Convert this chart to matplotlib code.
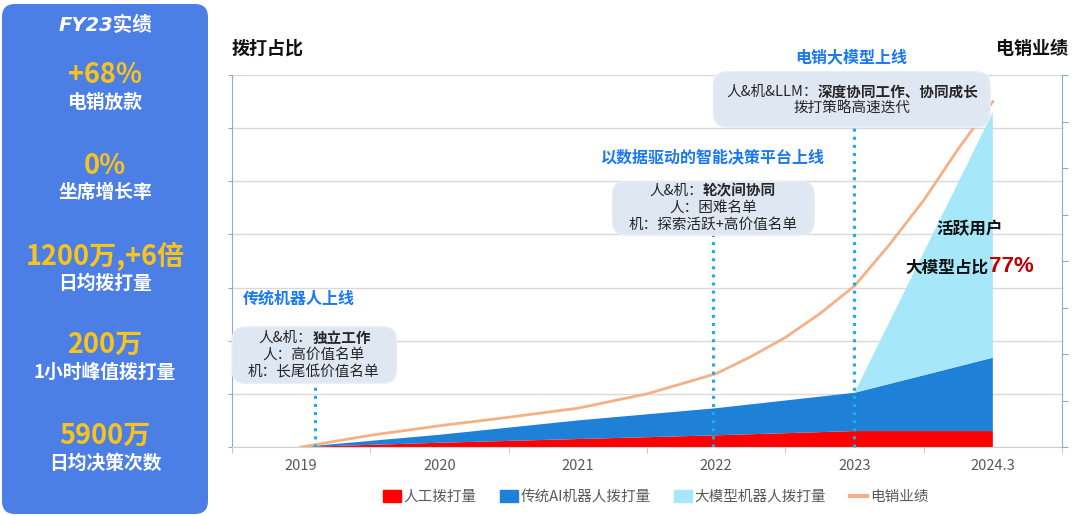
import matplotlib.pyplot as plt
from matplotlib.patches import FancyBboxPatch, Patch
from matplotlib.lines import Line2D

plt.rcParams['font.family'] = ['Noto Sans CJK SC', 'DejaVu Sans']

# categories and series (y in gridline units, 7 gridlines on the left axis)
years = ['2019', '2020', '2021', '2022', '2023', '2024.3']
x = list(range(len(years)))
manual_calls = [0, 0.08, 0.15, 0.22, 0.30, 0.30]
ai_robot_calls = [0, 0.15, 0.35, 0.51, 0.72, 1.38]
llm_robot_calls = [0, 0, 0, 0, 0, 4.62]

# sales line at finer steps
sales_x = [0, 0.5, 1, 1.5, 2, 2.5, 3, 3.25, 3.5, 3.75, 4, 4.25, 4.5, 4.75, 5]
sales = [0, 0.22, 0.40, 0.56, 0.73, 1.0, 1.38, 1.70, 2.06, 2.51, 3.03, 3.8, 4.64, 5.61, 6.5]

# left panel figures
kpi_values = ['+68%', '0%', '1200万,+6倍', '200万', '5900万']
kpi_labels = ['电销放款', '坐席增长率', '日均拨打量', '1小时峰值拨打量', '日均决策次数']

c_red = '#ff0000'
c_blue = '#1f80d8'
c_light = '#a6e7f9'
c_orange = '#f5b185'
c_title = '#1a78f0'
c_dot = '#19aee6'

W, H = 1080, 516
fig = plt.figure(figsize=(W / 100, H / 100), dpi=100)

# left KPI panel
panel = FancyBboxPatch((2 / W, 2 / H), 206 / W, 510 / H,
                       boxstyle='round,pad=0,rounding_size=0.012',
                       transform=fig.transFigure, facecolor='#4c7fe6',
                       edgecolor='none', mutation_aspect=W / H)
fig.patches.append(panel)
fig.text(105 / W, 1 - 25 / H, 'FY23实绩', color='white', fontsize=14,
         fontweight='bold', style='italic', ha='center', va='center',
         family=['DejaVu Sans', 'Noto Sans CJK SC'])
val_y = [75, 166, 256, 345, 436]
for v, lab, yy in zip(kpi_values, kpi_labels, val_y):
    fig.text(105 / W, 1 - yy / H, v, color='#f8c31c', fontsize=19.5,
             fontweight='heavy', ha='center', va='center')
    fig.text(105 / W, 1 - (yy + 27) / H, lab, color='white', fontsize=13.5,
             fontweight='bold', ha='center', va='center')

# main chart
ax = fig.add_axes([232 / W, 69 / H, 830 / W, 372 / H])
ax.stackplot(x, manual_calls, ai_robot_calls, llm_robot_calls,
             colors=[c_red, c_blue, c_light], zorder=2)
ax.plot(sales_x, sales, color=c_orange, lw=2, zorder=3, solid_joinstyle='round')

ax.set_xlim(-0.5, 5.5)
ax.set_ylim(0, 7)
ax.set_xticks(x)
ax.set_xticklabels(years, color='#595959', fontsize=10.5)
ax.set_xticks([i - 0.5 for i in range(7)], minor=True)
ax.tick_params(axis='x', which='major', length=0, pad=9)
ax.tick_params(axis='x', which='minor', length=4, color='#bfbfbf')
ax.set_yticks(range(8))
ax.set_yticklabels([])
ax.tick_params(axis='y', length=3, color='#8eaadb')
ax.grid(axis='y', color='#d9d9d9', lw=1, zorder=0)
ax.set_axisbelow(True)
ax.spines['top'].set_visible(False)
ax.spines['right'].set_visible(False)
ax.spines['left'].set_color('#8eaadb')
ax.spines['bottom'].set_color('#d0d0d0')

ax2 = ax.twinx()
ax2.set_ylim(0, 8)
ax2.set_yticks(range(9))
ax2.set_yticklabels([])
ax2.tick_params(axis='y', length=4, color='#8eaadb')
for s in ['top', 'left', 'bottom']:
    ax2.spines[s].set_visible(False)
ax2.spines['right'].set_color('#8eaadb')

fig.text(232 / W, 1 - 48 / H, '拨打占比', fontsize=13, fontweight='bold',
         ha='left', va='center', color='#111111')
fig.text(1068 / W, 1 - 49 / H, '电销业绩', fontsize=13, fontweight='bold',
         ha='right', va='center', color='#111111')

# milestone boxes
asp = 138.4 / 53.14
boxes = [(-0.5, 1.20, 1.19, 1.06), (2.25, 3.99, 1.46, 1.01), (2.98, 6.02, 2.0, 1.04)]
for bx, by, bw, bh in boxes:
    ax.add_patch(FancyBboxPatch((bx, by), bw, bh,
                                boxstyle='round,pad=0,rounding_size=0.1',
                                mutation_aspect=asp, facecolor='#dfe7f2',
                                edgecolor='#e9eef6', lw=1, zorder=5, clip_on=False))

# dotted leaders
ax.plot([0.1, 0.1], [0, 1.2], color=c_dot, ls=':', lw=2.2, zorder=4)
ax.plot([2.98, 2.98], [0, 3.99], color=c_dot, ls=':', lw=2.2, zorder=4)
ax.plot([4.0, 4.0], [0, 6.02], color=c_dot, ls=':', lw=2.2, zorder=4, clip_on=False)

def mixed(xs, y, normal, bold):
    ax.text(xs, y, normal, ha='right', va='center', fontsize=10.5,
            color='#262626', zorder=6, clip_on=False)
    ax.text(xs, y, bold, ha='left', va='center', fontsize=10.5,
            fontweight='bold', color='#262626', zorder=6, clip_on=False)

def plain(xc, y, s):
    ax.text(xc, y, s, ha='center', va='center', fontsize=10.5,
            color='#262626', zorder=6, clip_on=False)

mixed(0.08, 2.05, '人&机：', '独立工作')
plain(0.09, 1.73, '人：高价值名单')
plain(0.09, 1.41, '机：长尾低价值名单')

mixed(2.905, 4.82, '人&机：', '轮次间协同')
plain(2.98, 4.51, '人：困难名单')
plain(2.98, 4.19, '机：探索活跃+高价值名单')

mixed(3.735, 6.68, '人&机&LLM：', '深度协同工作、协同成长')
plain(3.98, 6.36, '拨打策略高速迭代')

# milestone titles
ax.text(-0.42, 2.80, '传统机器人上线', ha='left', va='center', fontsize=11.5,
        fontweight='bold', color=c_title)
ax.text(2.98, 5.44, '以数据驱动的智能决策平台上线', ha='center', va='center',
        fontsize=11.5, fontweight='bold', color=c_title)
ax.text(3.98, 7.34, '电销大模型上线', ha='center', va='center', fontsize=11.5,
        fontweight='bold', color=c_title, clip_on=False)

ax.text(4.83, 4.10, '活跃用户', ha='center', va='center', fontsize=12,
        fontweight='bold', color='#111111', zorder=6)
ax.text(4.97, 3.37, '大模型占比', ha='right', va='center', fontsize=12,
        fontweight='bold', color='#111111', zorder=6)
ax.text(4.97, 3.40, '77%', ha='left', va='center', fontsize=16,
        fontweight='bold', color='#c00000', zorder=6, clip_on=False,
        family=['Liberation Sans', 'DejaVu Sans'])

handles = [Patch(color=c_red), Patch(color=c_blue), Patch(color=c_light),
           Line2D([0], [0], color=c_orange, lw=3)]
labels = ['人工拨打量', '传统AI机器人拨打量', '大模型机器人拨打量', '电销业绩']
leg = fig.legend(handles, labels, loc='center', bbox_to_anchor=(656 / W, 1 - 497 / H),
                 ncol=4, frameon=False, fontsize=10.5, handlelength=1.2,
                 handleheight=0.8, handletextpad=0.2, columnspacing=1.6)
for t in leg.get_texts():
    t.set_color('#595959')

fig.savefig('out.png', dpi=100)
